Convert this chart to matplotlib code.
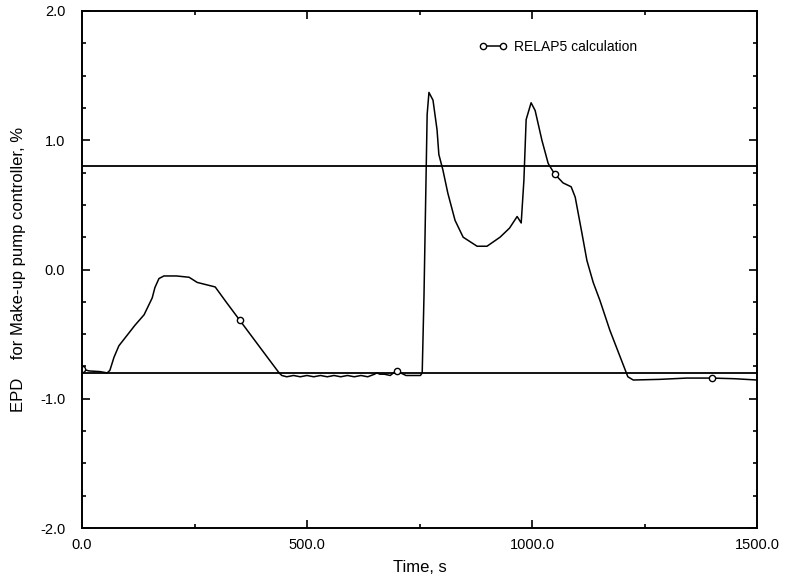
import numpy as np
import matplotlib.pyplot as plt
from matplotlib.ticker import MultipleLocator, FormatStrFormatter

plt.rcParams['font.family'] = ['Liberation Sans', 'DejaVu Sans']

# RELAP5 calculation, EPD for make-up pump controller (%)
time = [0, 16, 40, 56, 62, 71, 82, 100, 118, 138, 156, 162, 171, 182, 210, 238,
        256, 296, 320, 350, 380, 410, 438, 444, 455, 470, 485, 500, 515, 530,
        545, 560, 575, 590, 605, 620, 635, 650, 655, 662, 672, 685, 692, 700,
        708, 720, 740, 752, 756, 760, 764, 767, 771, 780, 789, 793, 802, 813,
        829, 847, 878, 900, 929, 950, 967, 976, 982, 987, 998, 1007, 1022,
        1036, 1050, 1069, 1087, 1096, 1111, 1122, 1136, 1151, 1173, 1213,
        1225, 1284, 1344, 1400, 1450, 1500]
epd = [-0.77, -0.785, -0.79, -0.80, -0.78, -0.68, -0.59, -0.51, -0.43, -0.35,
       -0.22, -0.14, -0.07, -0.05, -0.05, -0.06, -0.10, -0.135, -0.25, -0.39,
       -0.53, -0.67, -0.80, -0.82, -0.83, -0.82, -0.83, -0.82, -0.83, -0.82,
       -0.83, -0.82, -0.83, -0.82, -0.83, -0.82, -0.83, -0.81, -0.80, -0.81,
       -0.81, -0.82, -0.80, -0.785, -0.80, -0.82, -0.82, -0.82, -0.80, -0.20,
       0.60, 1.20, 1.37, 1.31, 1.08, 0.89, 0.77, 0.59, 0.38, 0.25, 0.18, 0.18,
       0.25, 0.32, 0.41, 0.36, 0.69, 1.16, 1.29, 1.23, 1.00, 0.82, 0.74, 0.67,
       0.64, 0.56, 0.28, 0.07, -0.10, -0.24, -0.47, -0.83, -0.855, -0.85,
       -0.84, -0.84, -0.845, -0.855]
marker_times = [0, 350, 700, 1050, 1400]

# set-point limits
upper_limit = 0.8
lower_limit = -0.8

mark_idx = [time.index(t) for t in marker_times]

fig = plt.figure(figsize=(7.86, 5.79), dpi=100)
ax = fig.add_axes([82 / 786, 51 / 579, 675 / 786, 517 / 579])

ax.axhline(upper_limit, color='black', lw=1.3)
ax.axhline(lower_limit, color='black', lw=1.3)
ax.plot(time, epd, color='black', lw=1.1, marker='o', markersize=4.5,
        markerfacecolor='white', markeredgewidth=1.0, markevery=mark_idx,
        label='RELAP5 calculation')

ax.set_xlim(0, 1500)
ax.set_ylim(-2.0, 2.0)
ax.xaxis.set_major_locator(MultipleLocator(500))
ax.xaxis.set_minor_locator(MultipleLocator(250))
ax.yaxis.set_major_locator(MultipleLocator(1.0))
ax.yaxis.set_minor_locator(MultipleLocator(0.25))
ax.xaxis.set_major_formatter(FormatStrFormatter('%.1f'))
ax.yaxis.set_major_formatter(FormatStrFormatter('%.1f'))
ax.tick_params(which='both', direction='in', top=True, right=True,
               labelsize=10.5, width=1.2)
ax.tick_params(which='major', length=6)
ax.tick_params(which='minor', length=3)
ax.tick_params(axis='y', pad=12)
ax.tick_params(axis='x', pad=7)
for s in ax.spines.values():
    s.set_linewidth(1.4)

ax.set_xlabel('Time, s', fontsize=12, labelpad=6)
ax.set_ylabel('EPD    for Make-up pump controller, %', fontsize=12, labelpad=10)

ax.legend(loc='center left', bbox_to_anchor=(0.57, 0.93), frameon=False,
          numpoints=2, handlelength=2.0, handletextpad=0.5, fontsize=10)

plt.savefig('out.png', dpi=100)
